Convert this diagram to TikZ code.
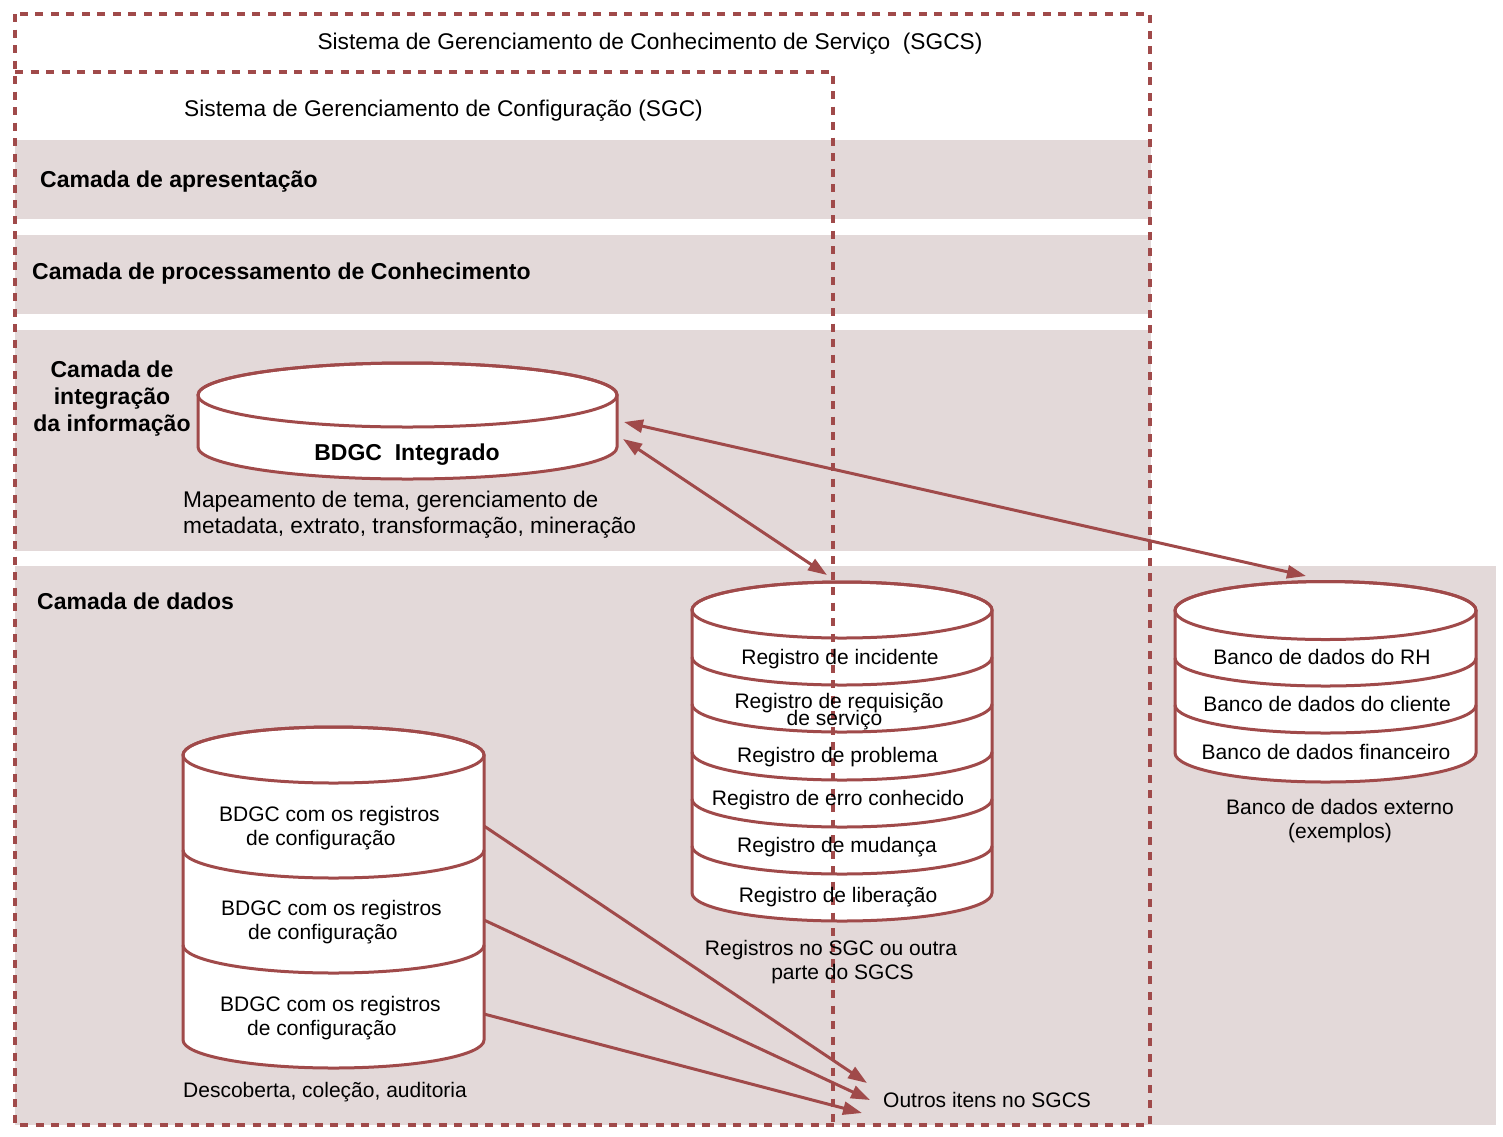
\documentclass[tikz,border=0pt]{standalone}
\usepackage{fontspec}
\setmainfont{Liberation Sans}
\usetikzlibrary{arrows.meta}
\definecolor{dred}{RGB}{160,74,74}
\definecolor{bandc}{RGB}{227,217,217}
\newcommand{\tightlines}{\fontsize{21}{17}\selectfont\setlength{\lineskiplimit}{-30pt}}
\begin{document}
\begin{tikzpicture}[x=1pt,y=-1pt,
  cyl/.style={draw=dred, line width=3pt, fill=white},
  cylline/.style={draw=dred, line width=3pt},
  frameline/.style={draw=dred, line width=3.5pt, dash pattern=on 8pt off 7.5pt},
  conn/.style={draw=dred, line width=3pt, -{Triangle[length=19pt,width=13pt]}},
  dconn/.style={draw=dred, line width=3pt, {Triangle[length=19pt,width=13pt]}-{Triangle[length=19pt,width=13pt]}},
  lbl/.style={font=\fontsize{22.7}{26}\selectfont, inner sep=0pt},
  clbl/.style={font=\fontsize{21}{24}\selectfont, inner sep=0pt},
  blbl/.style={font=\fontsize{23}{27}\selectfont\bfseries, inner sep=0pt},
  bandfill/.style={fill=bandc, draw=none}]
% background / bounding box
\fill[white] (0,0) rectangle (1503,1136);
\useasboundingbox (0,0) rectangle (1503,1136);
% bands
\path[bandfill] (15,140) rectangle (1151,219);
\path[bandfill] (15,235) rectangle (1151,314);
\path[bandfill] (15,330) rectangle (1151,551);
\path[bandfill] (15,566) rectangle (1496,1125);

% BDGC Integrado cylinder
\path[cyl] (198,395) -- (198,447) arc[start angle=180,end angle=360,x radius=209.5pt,y radius=32pt] -- (617,395) arc[start angle=0,end angle=180,x radius=209.5pt,y radius=32pt] -- cycle;
\draw[cylline] (407.5,395) ellipse[x radius=209.5pt,y radius=32pt];

% Registro cylinder
\path[cyl] (692,610) -- (692,893) arc[start angle=180,end angle=360,x radius=150pt,y radius=28pt] -- (992,610) arc[start angle=0,end angle=180,x radius=150pt,y radius=28pt] -- cycle;
\draw[cylline] (842,610) ellipse[x radius=150pt,y radius=28pt];
\foreach \yy in {657,704,752,799,846}
  \draw[cylline] (692,\yy) arc[start angle=180,end angle=360,x radius=150pt,y radius=28pt];

% External cylinder
\path[cyl] (1175,610.5) -- (1175,753) arc[start angle=180,end angle=360,x radius=150.5pt,y radius=29pt] -- (1476,610.5) arc[start angle=0,end angle=180,x radius=150.5pt,y radius=29pt] -- cycle;
\draw[cylline] (1325.5,610.5) ellipse[x radius=150.5pt,y radius=29pt];
\foreach \yy in {658,705}
  \draw[cylline] (1175,\yy) arc[start angle=180,end angle=360,x radius=150.5pt,y radius=28pt];

% Left stack cylinder
\path[cyl] (183,755) -- (183,1040) arc[start angle=180,end angle=360,x radius=150.5pt,y radius=28pt] -- (484,755) arc[start angle=0,end angle=180,x radius=150.5pt,y radius=28pt] -- cycle;
\draw[cylline] (333.5,755) ellipse[x radius=150.5pt,y radius=28pt];
\foreach \yy in {850,945}
  \draw[cylline] (183,\yy) arc[start angle=180,end angle=360,x radius=150.5pt,y radius=28pt];

% connector end points
\coordinate (intA) at (624,422);
\coordinate (extTop) at (1306,576);
\coordinate (intB) at (623,439);
\coordinate (regTop) at (827,575);
\coordinate (s1) at (484,826);
\coordinate (s2) at (484,920);
\coordinate (s3) at (484,1014);
\coordinate (o1) at (867,1083);
\coordinate (o2) at (870,1100);
\coordinate (o3) at (862,1113);

\draw[dconn] (intA) -- (extTop);
\draw[dconn] (intB) -- (regTop);
\draw[conn] (s1) -- (o1);
\draw[conn] (s2) -- (o2);
\draw[conn] (s3) -- (o3);

% dashed frames
\draw[frameline] (15,14) rectangle (1150,1125);
\draw[frameline] (15,72) -- (833,72) -- (833,1125);

% texts
\node[lbl, anchor=base] (tSGCS) at (650,49.3) {Sistema de Gerenciamento de Conhecimento de Serviço\ \ (SGCS)};
\node[lbl, anchor=base] (tSGC) at (443.5,116.3) {Sistema de Gerenciamento de Configuração (SGC)};
\node[blbl, anchor=base west] (tApr) at (40,187.4) {Camada de apresentação};
\node[blbl, anchor=base west] (tProc) at (32,279.4) {Camada de processamento de Conhecimento};
\node[blbl, align=center] (tInt) at (112,399) {Camada de\\integração\\da informação};
\node[blbl, anchor=base west] (tDados) at (37,609.4) {Camada de dados};
\node[blbl, anchor=base] (tBDGC) at (407,460.4) {BDGC\ \ Integrado};
\node[lbl, anchor=west, align=left] (tMap) at (183,515) {Mapeamento de tema, gerenciamento de\\metadata, extrato, transformação, mineração};

\node[clbl, anchor=base] (r1) at (840,664.7) {Registro de incidente};
\node[clbl, align=center, font=\tightlines] (r2) at (839,711.75) {Registro de requisição\\de serviço\hspace*{9pt}};
\node[clbl, anchor=base] (r3) at (837.5,762.7) {Registro de problema};
\node[clbl, anchor=base] (r4) at (838,805.7) {Registro de erro conhecido};
\node[clbl, anchor=base] (r5) at (837,852.7) {Registro de mudança};
\node[clbl, anchor=base] (r6) at (838,902.7) {Registro de liberação};
\node[clbl, align=center] (tReg) at (831,962) {Registros no SGC ou outra\\\hspace*{23pt}parte do SGCS};

\node[clbl, anchor=base] (e1) at (1322,664.7) {Banco de dados do RH};
\node[clbl, anchor=base] (e2) at (1327,711.7) {Banco de dados do cliente};
\node[clbl, anchor=base] (e3) at (1326,759.7) {Banco de dados financeiro};
\node[clbl, align=center] (tExt) at (1340,821) {Banco de dados externo\\(exemplos)};

\node[clbl, anchor=west, align=left] (c1) at (219,828) {BDGC com os registros\\\hspace*{27pt}de configuração};
\node[clbl, anchor=west, align=left] (c2) at (221,922) {BDGC com os registros\\\hspace*{27pt}de configuração};
\node[clbl, anchor=west, align=left] (c3) at (220,1018) {BDGC com os registros\\\hspace*{27pt}de configuração};
\node[clbl, anchor=base west] (tDesc) at (183,1097.7) {Descoberta, coleção, auditoria};
\node[clbl, anchor=base west] (tOut) at (883,1107.7) {Outros itens no SGCS};
\end{tikzpicture}
\end{document}
